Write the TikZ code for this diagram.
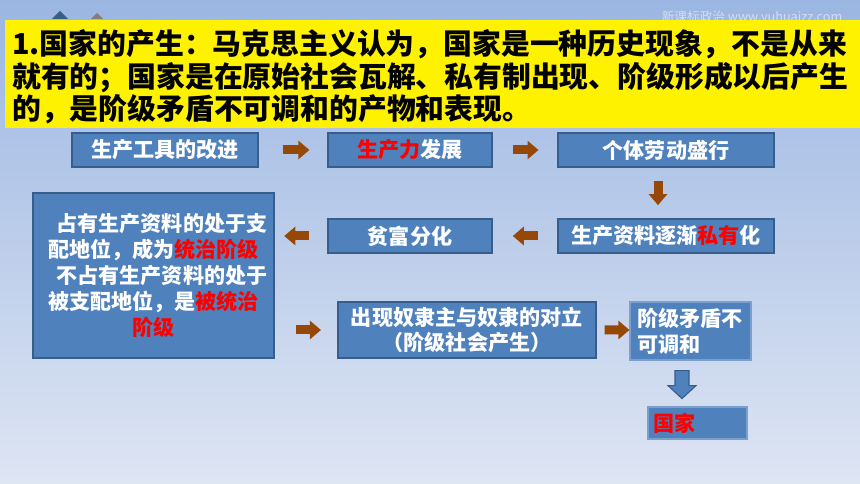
\documentclass[tikz,border=0pt]{standalone}
\usepackage{fontspec}
\setmainfont{Noto Sans CJK SC}
\usepackage{xcolor}
\usepackage{tikz}
\usetikzlibrary{arrows.meta,positioning,calc}
\definecolor{bgtop}{RGB}{155,182,226}
\definecolor{bgbot}{RGB}{222,229,243}
\definecolor{boxblue}{RGB}{79,129,189}
\definecolor{boxline}{RGB}{56,93,138}
\definecolor{brownarr}{RGB}{152,72,6}
\definecolor{hot}{RGB}{255,0,0}
\newcommand{\pxu}{0.025cm}
\tikzset{
  stagebox/.style={draw=boxline, line width=1.2pt, fill=boxblue, align=center, text=white,
    font=\fontsize{15}{18.5}\selectfont\bfseries, inner sep=0pt},
  softbox/.style={draw=boxblue!75!white, line width=0.8pt, fill=boxblue, align=left, text=white,
    font=\fontsize{15}{18.5}\selectfont\bfseries, inner sep=0pt},
  titlebox/.style={fill=yellow, align=left, text=black,
    font=\fontsize{20.5}{23}\selectfont\bfseries},
  flowarr/.style={draw=brownarr, line width=9*\pxu, -{Triangle[width=18*\pxu,length=11*\pxu]}},
  downarr/.style={draw=boxline, line width=0.8pt, fill=boxblue},
  hl/.style={text=hot}
}
\begin{document}
\begin{tikzpicture}[x=\pxu, y=-\pxu]
  % 背景
  \shade[top color=bgtop, bottom color=bgbot] (0,0) rectangle (860,484);
  \useasboundingbox (0,0) rectangle (860,484);
  \fill[boxline] (52,19) -- (60,11) -- (68,19) -- cycle;
  \fill[gray] (91,19) -- (97,13) -- (103,19) -- cycle;
  \node[text=white!55!bgtop, font=\fontsize{9}{10}\selectfont] (mark) at (752,18) {新课标政治 www.yuhuaizz.com};

  % 标题
  \fill[yellow] (5,20) rectangle (862,128);
  \node[titlebox, anchor=west, text width=843*\pxu, inner xsep=7*\pxu, inner ysep=0pt,
    fill=none] (title) at (5,77)
    {1.国家的产生：马克思主义认为，国家是一种历史现象，不是从来\\
     就有的；国家是在原始社会瓦解、私有制出现、阶级形成以后产生\\
     的，是阶级矛盾不可调和的产物和表现。};

  % 流程
  \node[stagebox, minimum width=186*\pxu, minimum height=34*\pxu] (tools) at (165,150) {生产工具的改进};
  \node[stagebox, minimum width=164*\pxu, minimum height=34*\pxu] (force) at (410,150) {{\color{hot}生产力}发展};
  \node[stagebox, minimum width=216*\pxu, minimum height=34*\pxu] (labor) at (666,150) {个体劳动盛行};
  \node[stagebox, minimum width=216*\pxu, minimum height=34*\pxu] (priv) at (666,236) {生产资料逐渐{\color{hot}私有}化};
  \node[stagebox, minimum width=164*\pxu, minimum height=34*\pxu] (gap) at (410,236) {贫富分化};
  \node[stagebox, minimum width=241*\pxu, minimum height=165*\pxu] (rule) at (153.5,275.5)
    {\hspace{0.8em}占有生产资料的处于支\\
     配地位，成为{\color{hot}统治阶级}\\
     \hspace{0.8em}不占有生产资料的处于\\
     被支配地位，是{\color{hot}被统治}\\
     {\color{hot}阶级}};
  \node[stagebox, minimum width=258*\pxu, minimum height=56*\pxu,
    font=\fontsize{15}{17.8}\selectfont\bfseries] (slave) at (467,330)
    {出现奴隶主与奴隶的对立\\（阶级社会产生）};
  \node[softbox, minimum width=121*\pxu, minimum height=58*\pxu, text width=107*\pxu,
    inner xsep=7*\pxu] (clash) at (690.5,331) {阶级矛盾不\\可调和};
  \node[softbox, minimum width=95*\pxu, minimum height=32*\pxu, text width=89*\pxu,
    inner xsep=5*\pxu] (state) at (697.5,423) {{\color{hot}国家}};

  \draw[flowarr] ($(tools.east)!0.36!(force.west)$) -- ($(tools.east)!0.74!(force.west)$);
  \draw[flowarr] ($(force.east)!0.32!(labor.west)$) -- ($(force.east)!0.71!(labor.west)$);
  \draw[flowarr] ($(labor.south)+(-8,13)$) -- ($(priv.north)+(-8,-13)$);
  \draw[flowarr] ($(priv.west)!0.30!(gap.east)$) -- ($(priv.west)!0.69!(gap.east)$);
  \draw[flowarr] ($(gap.west)!0.35!(gap.west -| rule.east)$) -- ($(gap.west)!0.82!(gap.west -| rule.east)$);
  \draw[flowarr] ($(rule.east |- slave.west)!0.34!(slave.west)$) -- ($(rule.east |- slave.west)!0.74!(slave.west)$);
  \draw[flowarr] ($(slave.east)!0.24!(clash.west |- slave.east)$) -- (clash.west |- slave.east);

  \path ($(clash.south)+(-8.5,10)$) coordinate (drop);
  \draw[downarr] (drop) ++(-7,0) -- ++(14,0) -- ++(0,15) -- ++(7,0) -- ++(-14,13)
    -- ++(-14,-13) -- ++(7,0) -- cycle;
\end{tikzpicture}
\end{document}
